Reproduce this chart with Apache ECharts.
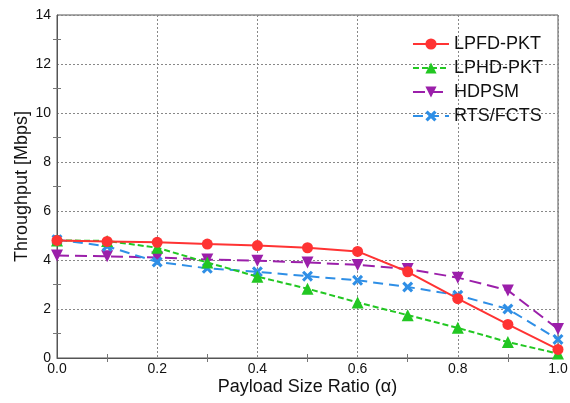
<!DOCTYPE html>
<html><head><meta charset="utf-8">
<script src="https://cdn.jsdelivr.net/npm/echarts@6/dist/echarts.min.js"></script>
<style>html,body{margin:0;padding:0;background:#fff}#c{width:570px;height:403px}</style>
</head><body><div id="c"></div>
<script>
const xValues = [0.0, 0.1, 0.2, 0.3, 0.4, 0.5, 0.6, 0.7, 0.8, 0.9, 1.0];
const lpfd = [4.80, 4.76, 4.72, 4.65, 4.59, 4.50, 4.35, 3.52, 2.42, 1.37, 0.35];
const lphd = [4.80, 4.78, 4.50, 3.90, 3.32, 2.83, 2.27, 1.75, 1.23, 0.65, 0.18];
const hdpsm = [4.18, 4.15, 4.10, 4.02, 3.97, 3.90, 3.80, 3.63, 3.28, 2.76, 1.18];
const rts = [4.83, 4.56, 3.92, 3.66, 3.52, 3.34, 3.17, 2.90, 2.56, 2.00, 0.76];
const seriesNames = ['LPFD-PKT', 'LPHD-PKT', 'HDPSM', 'RTS/FCTS'];

const font = 'Liberation Sans, Arial, sans-serif';
const crossPath = 'path://M2,0 L5,3 L8,0 L10,2 L7,5 L10,8 L8,10 L5,7 L2,10 L0,8 L3,5 L0,2 Z';
const pair = arr => xValues.map((x, i) => [x, arr[i]]);

const chart = echarts.init(document.getElementById('c'), null, {renderer: 'canvas'});
const axisLineStyle = {color: '#555', width: 1};
chart.setOption({
  animation: false,
  backgroundColor: '#fff',
  grid: {left: 57, right: 12, top: 15, bottom: 45, show: true, borderColor: '#555', borderWidth: 1,
         containLabel: false, outerBoundsMode: 'none'},
  legend: {
    right: 22, top: 30, orient: 'vertical', itemGap: 6, itemWidth: 36, itemHeight: 14,
    textStyle: {fontFamily: font, fontSize: 18, color: '#111'},
    data: seriesNames
  },
  xAxis: [{
    type: 'value', min: 0, max: 1.0, interval: 0.2,
    name: 'Payload Size Ratio (α)', nameLocation: 'middle', nameGap: 20, nameMoveOverlap: false,
    nameTextStyle: {fontFamily: font, fontSize: 18, color: '#111'},
    axisLine: {show: true, lineStyle: axisLineStyle},
    axisTick: {show: false},
    minorTick: {show: true, splitNumber: 2, length: 4, lineStyle: {color: '#777'}},
    axisLabel: {fontFamily: font, fontSize: 14, color: '#111', margin: 4, formatter: v => v.toFixed(1)},
    splitLine: {show: true, lineStyle: {color: '#888', type: [2, 2], width: 1}}
  }, {
    type: 'value', min: 0, max: 1.0, interval: 0.2, position: 'top',
    axisLine: {show: false}, axisTick: {show: false}, axisLabel: {show: false},
    minorTick: {show: true, splitNumber: 2, length: 4, lineStyle: {color: '#777'}},
    splitLine: {show: false}
  }],
  yAxis: [{
    type: 'value', min: 0, max: 14, interval: 2,
    name: 'Throughput [Mbps]', nameLocation: 'middle', nameGap: 26, nameMoveOverlap: false,
    nameTextStyle: {fontFamily: font, fontSize: 18, color: '#111'},
    axisLine: {show: true, lineStyle: axisLineStyle},
    axisTick: {show: false},
    minorTick: {show: true, splitNumber: 2, length: 4, lineStyle: {color: '#777'}},
    axisLabel: {fontFamily: font, fontSize: 14, color: '#111', margin: 6},
    splitLine: {show: true, lineStyle: {color: '#888', type: [2, 2], width: 1}}
  }, {
    type: 'value', min: 0, max: 14, interval: 2, position: 'right',
    axisLine: {show: false}, axisTick: {show: false}, axisLabel: {show: false},
    minorTick: {show: true, splitNumber: 2, length: 4, lineStyle: {color: '#777'}},
    splitLine: {show: false}
  }],
  series: [
    {name: 'HDPSM', type: 'line', data: pair(hdpsm), symbol: 'triangle', symbolRotate: 180, symbolSize: 12,
     itemStyle: {color: '#9b1faa'}, lineStyle: {color: '#9b1faa', width: 2, type: [12, 6]}, z: 2},
    {name: 'RTS/FCTS', type: 'line', data: pair(rts), symbol: crossPath, symbolSize: 11,
     itemStyle: {color: '#2f8fe6'}, lineStyle: {color: '#2f8fe6', width: 2, type: [10, 6]}, z: 3},
    {name: 'LPHD-PKT', type: 'line', data: pair(lphd), symbol: 'triangle', symbolSize: 12,
     itemStyle: {color: '#22c722'}, lineStyle: {color: '#22c722', width: 2, type: [6, 3]}, z: 4},
    {name: 'LPFD-PKT', type: 'line', data: pair(lpfd), symbol: 'circle', symbolSize: 11,
     itemStyle: {color: '#ff3333'}, lineStyle: {color: '#ff3333', width: 2}, z: 5}
  ]
});
</script></body></html>
